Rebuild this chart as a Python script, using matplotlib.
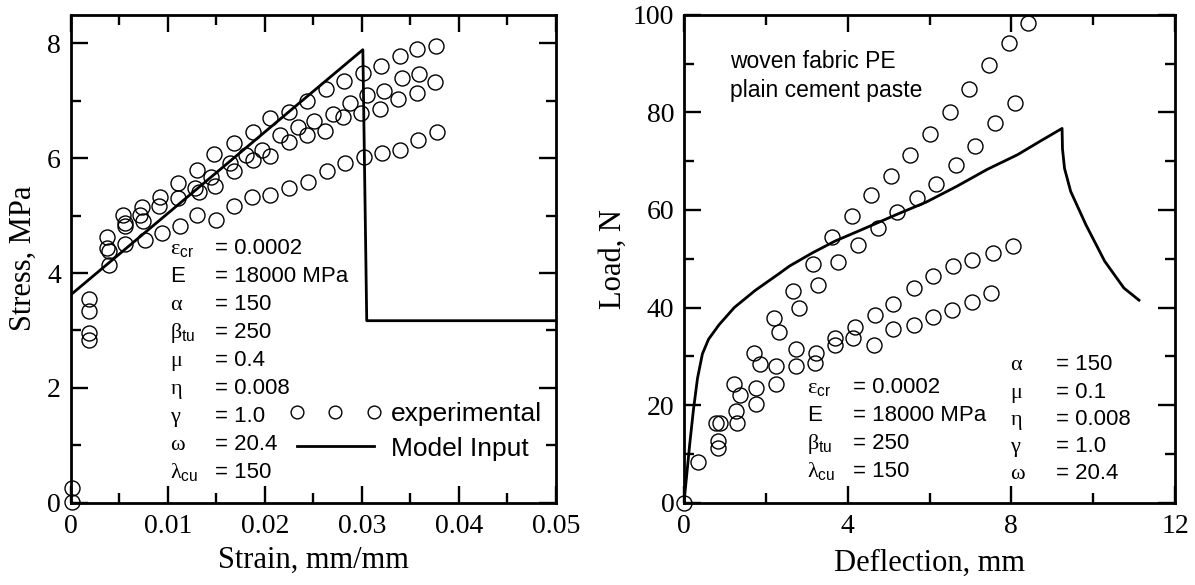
import matplotlib
matplotlib.use("Agg")
import matplotlib.pyplot as plt
from matplotlib.lines import Line2D
from matplotlib.ticker import MultipleLocator

plt.rcParams["font.family"] = ["Liberation Serif", "DejaVu Serif"]
plt.rcParams["mathtext.fontset"] = "custom"
plt.rcParams["mathtext.rm"] = "Liberation Sans"
plt.rcParams["mathtext.it"] = "Liberation Serif"

# ---- left panel: tension test (stress vs strain) ----
strain_a = [0.0019, 0.0037, 0.0054, 0.0073, 0.0092, 0.0111, 0.0130, 0.0148, 0.0168, 0.0188,
            0.0205, 0.0225, 0.0243, 0.0263, 0.0282, 0.0301, 0.0320, 0.0339, 0.0357, 0.0376]
stress_a = [3.54, 4.63, 5.01, 5.15, 5.33, 5.56, 5.80, 6.08, 6.26, 6.46,
            6.70, 6.81, 6.99, 7.20, 7.35, 7.49, 7.61, 7.78, 7.90, 7.96]
strain_b = [0.0001, 0.0019, 0.0037, 0.0056, 0.0071, 0.0091, 0.0111, 0.0128, 0.0145, 0.0164,
            0.0181, 0.0197, 0.0216, 0.0234, 0.0251, 0.0270, 0.0288, 0.0305, 0.0323, 0.0341, 0.0359]
stress_b = [0.25, 3.34, 4.43, 4.87, 5.01, 5.16, 5.30, 5.49, 5.67, 5.91,
            6.06, 6.14, 6.41, 6.55, 6.64, 6.77, 6.97, 7.10, 7.17, 7.39, 7.47]
strain_c = [0.0019, 0.0039, 0.0056, 0.0074, 0.0132, 0.0149, 0.0168, 0.0188, 0.0205, 0.0225,
            0.0243, 0.0262, 0.0281, 0.0299, 0.0319, 0.0337, 0.0357, 0.0375]
stress_c = [2.95, 4.38, 4.82, 4.90, 5.42, 5.52, 5.77, 5.97, 6.04, 6.29,
            6.41, 6.48, 6.71, 6.78, 6.85, 7.03, 7.13, 7.33]
strain_d = [0.0001, 0.0019, 0.0039, 0.0056, 0.0077, 0.0094, 0.0113, 0.0130, 0.0150, 0.0168,
            0.0187, 0.0205, 0.0225, 0.0244, 0.0264, 0.0283, 0.0302, 0.0321, 0.0339, 0.0358, 0.0377]
stress_d = [0.02, 2.83, 4.14, 4.51, 4.58, 4.69, 4.82, 5.01, 4.93, 5.17,
            5.33, 5.36, 5.48, 5.59, 5.77, 5.91, 6.03, 6.09, 6.14, 6.32, 6.46]

model_strain = [0.0, 0.0, 0.0301, 0.0305, 0.05]
model_stress = [0.0, 3.62, 7.89, 3.17, 3.17]

left_names = [r"$\varepsilon_{\mathrm{cr}}$", "E", r"$\alpha$", r"$\beta_{\mathrm{tu}}$", r"$\mu$",
              r"$\eta$", r"$\gamma$", r"$\omega$", r"$\lambda_{\mathrm{cu}}$"]
left_values = ["= 0.0002", "= 18000 MPa", "= 150", "= 250", "= 0.4",
               "= 0.008", "= 1.0", "= 20.4", "= 150"]

# ---- right panel: bending test (load vs deflection) ----
defl_1 = [0.0, 0.33, 0.77, 1.22, 1.72, 2.19, 2.67, 3.16, 3.62, 4.11, 4.58, 5.06,
          5.53, 6.01, 6.50, 6.97, 7.45, 7.94, 8.41]
load_1 = [0.0, 8.3, 16.3, 24.3, 30.7, 37.9, 43.3, 48.9, 54.4, 58.7, 63.1, 67.0,
          71.2, 75.6, 80.0, 84.8, 89.6, 94.1, 98.3]
defl_2 = [0.89, 1.36, 1.86, 2.32, 2.81, 3.28, 3.77, 4.25, 4.74, 5.21, 5.69, 6.15,
          6.64, 7.11, 7.59, 8.08]
load_2 = [16.3, 22.1, 28.4, 35.0, 40.0, 44.7, 49.3, 52.9, 56.3, 59.5, 62.5, 65.4,
          69.3, 73.0, 77.8, 82.0]
defl_3 = [0.83, 1.28, 1.77, 2.26, 2.74, 3.23, 3.69, 4.18, 4.67, 5.11, 5.61, 6.09,
          6.57, 7.05, 7.55, 8.04]
load_3 = [12.6, 18.8, 23.5, 28.0, 31.4, 30.7, 33.8, 36.1, 38.4, 40.8, 43.9, 46.4,
          48.5, 49.8, 51.2, 52.6]
defl_4 = [0.83, 1.30, 1.77, 2.26, 2.74, 3.20, 3.69, 4.14, 4.64, 5.11, 5.61, 6.09,
          6.55, 7.03, 7.50]
load_4 = [11.2, 16.3, 20.3, 24.3, 28.0, 28.7, 32.3, 33.7, 32.4, 35.5, 36.4, 38.1,
          39.5, 41.2, 43.0]

model_defl = [0.0, 0.07, 0.14, 0.23, 0.33, 0.45, 0.6, 0.86, 1.23, 1.74, 2.3, 2.58,
              3.14, 3.69, 4.44, 5.18, 5.92, 6.66, 7.41, 8.15, 8.71, 9.24,
              9.25, 9.3, 9.45, 9.82, 10.28, 10.75, 11.12]
model_load = [0.0, 6.0, 12.0, 19.0, 25.5, 30.5, 33.5, 36.5, 40.0, 43.5, 46.8, 48.5,
              51.2, 53.6, 56.3, 59.0, 61.6, 64.8, 68.3, 71.3, 74.1, 76.7,
              72.5, 68.5, 63.8, 57.0, 49.5, 44.0, 41.5]

right_names_1 = [r"$\varepsilon_{\mathrm{cr}}$", "E", r"$\beta_{\mathrm{tu}}$", r"$\lambda_{\mathrm{cu}}$"]
right_values_1 = ["= 0.0002", "= 18000 MPa", "= 250", "= 150"]
right_names_2 = [r"$\alpha$", r"$\mu$", r"$\eta$", r"$\gamma$", r"$\omega$"]
right_values_2 = ["= 150", "= 0.1", "= 0.008", "= 1.0", "= 20.4"]
material_note = "woven fabric PE\nplain cement paste"

W, H = 1195, 585
fig = plt.figure(figsize=(W / 100, H / 100), dpi=100)
ax1 = fig.add_axes([70.7 / W, 1 - 502.7 / H, 485.3 / W, 488 / H])
ax2 = fig.add_axes([684 / W, 1 - 502.7 / H, 491 / W, 488 / H])

circ = dict(linestyle="none", marker="o", markersize=10.8, markerfacecolor="none",
            markeredgecolor="black", markeredgewidth=1.0)
sans = ["Liberation Sans", "DejaVu Sans"]


def style_axes(ax):
    for s in ax.spines.values():
        s.set_linewidth(2.0)
    ax.tick_params(which="both", direction="in", top=True, right=True, width=1.7,
                   labelsize=20, pad=7)
    ax.tick_params(axis="x", which="both", pad=8)
    ax.tick_params(which="major", length=12.5)
    ax.tick_params(which="minor", length=7)


# left
for xs, ys in [(strain_a, stress_a), (strain_b, stress_b), (strain_c, stress_c), (strain_d, stress_d)]:
    ax1.plot(xs, ys, clip_on=False, zorder=3, **circ)
ax1.plot(model_strain, model_stress, color="black", lw=2.0)
ax1.set_xlim(0, 0.05)
ax1.set_ylim(0, 8.5)
ax1.set_xticks([0, 0.01, 0.02, 0.03, 0.04, 0.05])
ax1.set_xticklabels(["0", "0.01", "0.02", "0.03", "0.04", "0.05"])
ax1.xaxis.set_minor_locator(MultipleLocator(0.005))
ax1.yaxis.set_major_locator(MultipleLocator(2))
ax1.yaxis.set_minor_locator(MultipleLocator(1))
style_axes(ax1)
ax1.set_xlabel("Strain, mm/mm", fontsize=22, labelpad=5)
ax1.set_ylabel("Stress, MPa", fontsize=22, labelpad=7)

for i, (n, v) in enumerate(zip(left_names, left_values)):
    yy = 0.509 - i * 0.0574
    ax1.text(0.205, yy, n, transform=ax1.transAxes, fontsize=16, va="baseline", family=sans)
    ax1.text(0.298, yy, v, transform=ax1.transAxes, fontsize=16, va="baseline", family=sans)

handles = [Line2D([], [], **circ), Line2D([], [], color="black", lw=2.0)]
leg = ax1.legend(handles, ["experimental", "Model Input"], loc="upper left",
                 bbox_to_anchor=(0.449, 0.206), frameon=False, numpoints=3,
                 handlelength=3.55, handletextpad=0.34, borderpad=0, borderaxespad=0,
                 labelspacing=0.40, markerscale=0.85, prop={"family": sans, "size": 19})

# right
for xs, ys in [(defl_1, load_1), (defl_2, load_2), (defl_3, load_3), (defl_4, load_4)]:
    ax2.plot(xs, ys, clip_on=False, zorder=3, **circ)
ax2.plot(model_defl, model_load, color="black", lw=2.0)
ax2.set_xlim(0, 12)
ax2.set_ylim(0, 100)
ax2.xaxis.set_major_locator(MultipleLocator(4))
ax2.xaxis.set_minor_locator(MultipleLocator(2))
ax2.yaxis.set_major_locator(MultipleLocator(20))
ax2.yaxis.set_minor_locator(MultipleLocator(10))
style_axes(ax2)
ax2.set_xlabel("Deflection, mm", fontsize=22, labelpad=7)
ax2.set_ylabel("Load, N", fontsize=22, labelpad=4)

ax2.text(0.093, 0.927, material_note, transform=ax2.transAxes, fontsize=16.5, va="top",
         family=sans, linespacing=1.3)
for i, (n, v) in enumerate(zip(right_names_1, right_values_1)):
    yy = 0.224 - i * 0.0572
    ax2.text(0.25, yy, n, transform=ax2.transAxes, fontsize=16, va="baseline", family=sans)
    ax2.text(0.345, yy, v, transform=ax2.transAxes, fontsize=16, va="baseline", family=sans)
for i, (n, v) in enumerate(zip(right_names_2, right_values_2)):
    yy = 0.271 - i * 0.0555
    ax2.text(0.663, yy, n, transform=ax2.transAxes, fontsize=16, va="baseline", family=sans)
    ax2.text(0.757, yy, v, transform=ax2.transAxes, fontsize=16, va="baseline", family=sans)

fig.savefig("out.png", dpi=100)
